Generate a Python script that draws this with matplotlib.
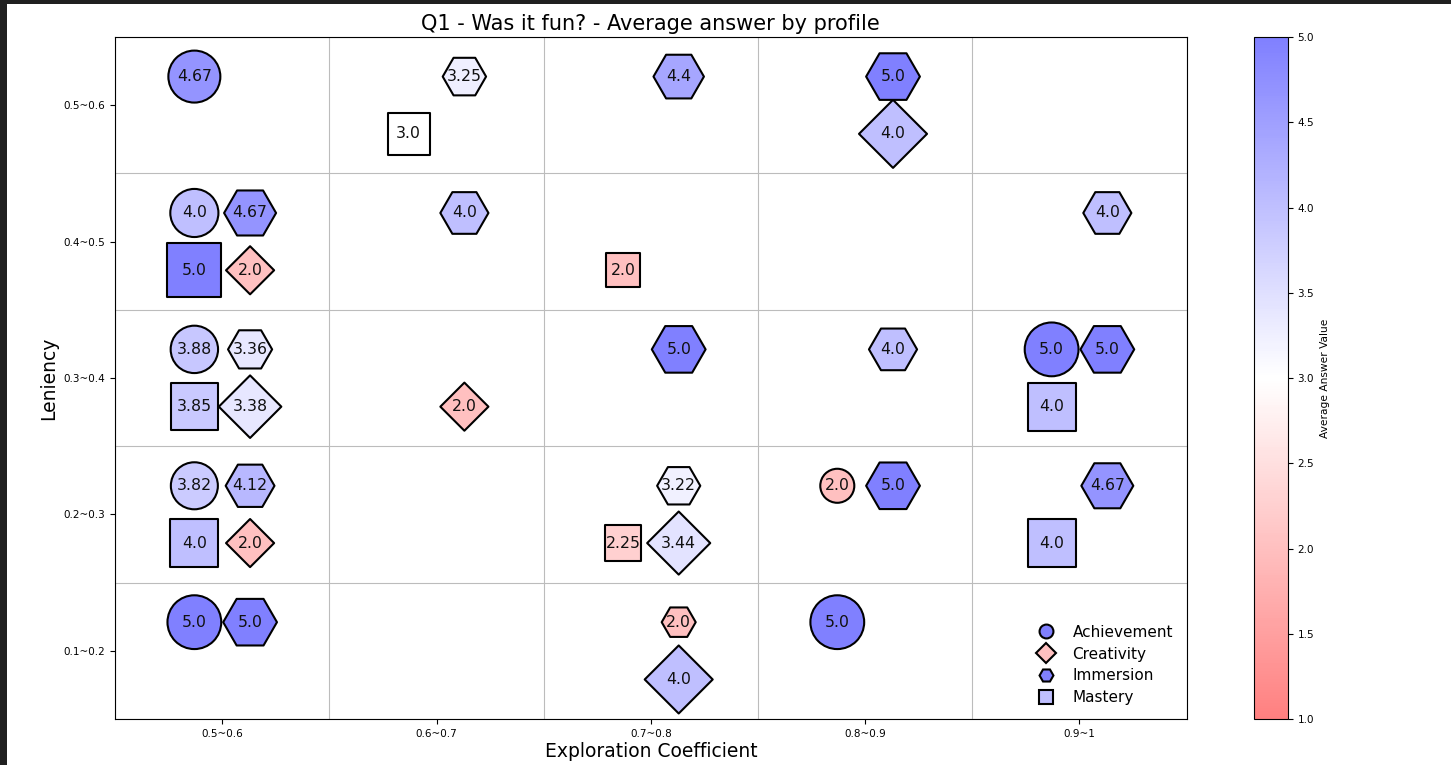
import matplotlib
matplotlib.use("Agg")
import matplotlib.pyplot as plt
import numpy as np
from matplotlib.colors import LinearSegmentedColormap, Normalize
from matplotlib.lines import Line2D
from matplotlib.patches import Rectangle
import matplotlib.cm as cm

# ---------------- data ----------------
x_labels = ["0.5~0.6", "0.6~0.7", "0.7~0.8", "0.8~0.9", "0.9~1"]
y_labels = ["0.1~0.2", "0.2~0.3", "0.3~0.4", "0.4~0.5", "0.5~0.6"]
profiles = ["Achievement", "Creativity", "Immersion", "Mastery"]

# each profile: x bin index, y bin index, average answer
ach_x = [0, 0, 0, 0, 0, 3, 3, 4]
ach_y = [0, 1, 2, 3, 4, 0, 1, 2]
ach_v = [5.0, 3.82, 3.88, 4.0, 4.67, 5.0, 2.0, 5.0]

cre_x = [0, 0, 0, 1, 2, 2, 3]
cre_y = [1, 2, 3, 2, 0, 1, 4]
cre_v = [2.0, 3.38, 2.0, 2.0, 4.0, 3.44, 4.0]

imm_x = [0, 0, 0, 0, 1, 1, 2, 2, 2, 2, 3, 3, 3, 4, 4, 4]
imm_y = [0, 1, 2, 3, 3, 4, 0, 1, 2, 4, 1, 2, 4, 1, 2, 3]
imm_v = [5.0, 4.12, 3.36, 4.67, 4.0, 3.25, 2.0, 3.22, 5.0, 4.4, 5.0, 4.0, 5.0, 4.67, 5.0, 4.0]

mas_x = [0, 0, 0, 1, 2, 2, 4, 4]
mas_y = [1, 2, 3, 4, 1, 3, 1, 2]
mas_v = [4.0, 3.85, 5.0, 3.0, 2.25, 2.0, 4.0, 4.0]

series = {
    "Achievement": (ach_x, ach_y, ach_v),
    "Creativity": (cre_x, cre_y, cre_v),
    "Immersion": (imm_x, imm_y, imm_v),
    "Mastery": (mas_x, mas_y, mas_v),
}

# ---------------- styles ----------------
markers = {"Achievement": "o", "Creativity": "D", "Immersion": "H", "Mastery": "s"}
offsets = {"Achievement": (-0.13, 0.21), "Immersion": (0.13, 0.21),
           "Mastery": (-0.13, -0.21), "Creativity": (0.13, -0.21)}

base = plt.get_cmap("bwr_r")
cols = [tuple(0.5 * np.array(base(t)[:3]) + 0.5) for t in np.linspace(0, 1, 256)]
cmap = LinearSegmentedColormap.from_list("bwr_r_light", cols)
norm = Normalize(vmin=1.0, vmax=5.0)

fig = plt.figure(figsize=(14.51, 7.65), dpi=100)
ax = fig.add_axes([0.0793, 0.0601, 0.7385, 0.8915])
cax = fig.add_axes([0.8642, 0.0601, 0.0234, 0.8915])

legend_handles = []
for name in profiles:
    xs, ys, vs = series[name]
    dx, dy = offsets[name]
    px = np.array(xs) + dx
    py = np.array(ys) + dy
    vs = np.array(vs)
    ax.scatter(px, py, s=300 * vs, c=vs, cmap=cmap, norm=norm,
               marker=markers[name], edgecolors="black", linewidths=1.5, zorder=3)
    for xx, yy, vv in zip(px, py, vs):
        ax.text(xx, yy, str(vv), ha="center", va="center", fontsize=11.3,
                color="#111111", zorder=4)
    legend_handles.append(Line2D([], [], linestyle="none", marker=markers[name],
                                 markersize=10, markerfacecolor=cmap(norm(vs[0])),
                                 markeredgecolor="black", markeredgewidth=1.5,
                                 label=name))

ax.set_xlim(-0.5, len(x_labels) - 0.5)
ax.set_ylim(-0.5, len(y_labels) - 0.5)
ax.set_xticks(range(len(x_labels)))
ax.set_xticklabels(x_labels, fontsize=7.5)
ax.set_yticks(range(len(y_labels)))
ax.set_yticklabels(y_labels, fontsize=7.5)
ax.set_xticks(np.arange(-0.5, len(x_labels), 1.0), minor=True)
ax.set_yticks(np.arange(-0.5, len(y_labels), 1.0), minor=True)
ax.tick_params(which="minor", length=0)
ax.grid(which="minor", color="#bcbcbc", linewidth=0.8)
ax.grid(which="major", visible=False)
ax.set_axisbelow(True)

ax.set_title("Q1 - Was it fun? - Average answer by profile", fontsize=15, pad=5)
ax.set_xlabel("Exploration Coefficient", fontsize=13.5, labelpad=2)
ax.set_ylabel("Leniency", fontsize=13.5, labelpad=4)

ax.legend(handles=legend_handles, loc="lower right", frameon=False,
          fontsize=11, handletextpad=0.7, labelspacing=0.45,
          borderaxespad=0.5)

sm = cm.ScalarMappable(norm=norm, cmap=cmap)
cb = fig.colorbar(sm, cax=cax)
cb.set_ticks(np.arange(1.0, 5.01, 0.5))
cb.ax.tick_params(labelsize=7.5)
cb.set_label("Average Answer Value", fontsize=7.7)

# dark frame of the screenshot
fig.patches.append(Rectangle((0, 1 - 4 / 765), 1, 4 / 765, transform=fig.transFigure,
                             facecolor="#202020", edgecolor="none", zorder=10))
fig.patches.append(Rectangle((0, 0), 7 / 1451, 1, transform=fig.transFigure,
                             facecolor="#202020", edgecolor="none", zorder=10))

fig.savefig("out.png", dpi=100)
